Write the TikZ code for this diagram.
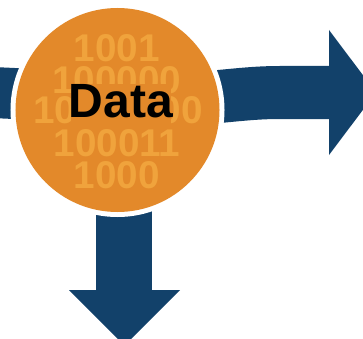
\documentclass[tikz,border=0pt]{standalone}
\usepackage{fontspec}
\setmainfont{Liberation Sans}
\definecolor{dataorange}{HTML}{E3892A}
\definecolor{arrowblue}{HTML}{12416A}
\definecolor{bitorange}{HTML}{F0A33C}
\begin{document}
\begin{tikzpicture}[x=0.03cm,y=-0.03cm,
	band/.style={draw=arrowblue,line cap=butt},
	bits/.style={text=bitorange,font=\fontsize{33}{33}\selectfont\bfseries,inner sep=0pt}]
	\useasboundingbox (0,0) rectangle (363,339);
	\coordinate (c) at (117.5,110);
	%Mui ten trai
	\draw[band,line width=1.53cm] (-10,92.5) .. controls (20,93.5) and (40,95) .. (60,97);
	%Mui ten phai
	\draw[band,line width=1.59cm] (180,100) .. controls (230,96) and (250,92.5) .. (280,92.5) -- (329,92.5);
	\fill[arrowblue] (329,30) -- (376,92.5) -- (329,155) -- cycle;
	%Mui ten duoi
	\draw[band,line width=1.66cm] (124,150) -- (124,290);
	\fill[arrowblue] (69,290) -- (180,290) -- (124.5,345.5) -- cycle;
	%Vong tron
	\fill[white] (c) circle (3.21cm);
	\fill[dataorange] (c) circle (3.06cm);
	%Day so
	\node[bits] (b1) at (117,48) {1001};
	\node[bits] (b2) at (117,80) {100000};
	\node[bits] (b3) at (118,110) {10110100};
	\node[bits] (b4) at (117,143) {100011};
	\node[bits] (b5) at (117,175) {1000};
	%Chu
	\node[fill=dataorange,text=black,font=\fontsize{41}{41}\selectfont\bfseries,
		inner xsep=-2pt,inner ysep=0pt,text depth=7.5pt,anchor=base] (data) at (121,117) {Data};
\end{tikzpicture}
\end{document}
